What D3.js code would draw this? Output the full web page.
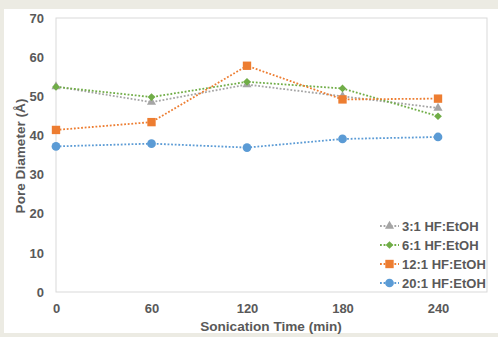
<!DOCTYPE html>
<html><head><meta charset="utf-8">
<script src="https://cdn.jsdelivr.net/npm/d3@7"></script>
<style>body{margin:0;background:#ecebe3;}</style>
</head><body>
<script>
const times = [0, 60, 120, 180, 240];
const yTicks = [0, 10, 20, 30, 40, 50, 60, 70];
const seriesNames = ["3:1 HF:EtOH", "6:1 HF:EtOH", "12:1 HF:EtOH", "20:1 HF:EtOH"];
const s3 = [52.5, 48.5, 53.0, 50.0, 47.0];
const s6 = [52.4, 49.8, 53.7, 52.0, 44.9];
const s12 = [41.4, 43.4, 57.8, 49.2, 49.4];
const s20 = [37.2, 37.9, 36.9, 39.1, 39.6];
const colors = ["#a5a5a5", "#70ad47", "#ed7d31", "#5b9bd5"];
const symbols = [d3.symbolTriangle, d3.symbolSquare, d3.symbolSquare, d3.symbolCircle];
const rotations = [0, 45, 0, 0];
const sizes = [36, 30, 70, 60];
const allSeries = [s3, s6, s12, s20];

(function () {
const W = 498, H = 337;
const svg = d3.select("body").append("svg").attr("width", W).attr("height", H).style("display", "block");
svg.append("rect").attr("x", 4).attr("y", 9).attr("width", W - 4).attr("height", H - 13).attr("fill", "#fff");

const pL = 56, pR = 487, pT = 18, pB = 292;
const x = d3.scaleLinear().domain([0, 240]).range([pL, 438]);
const y = d3.scaleLinear().domain([0, 70]).range([pB, pT]);

svg.append("rect").attr("x", pL).attr("y", pT).attr("width", pR - pL).attr("height", pB - pT)
  .attr("fill", "none").attr("stroke", "#d9d9d9").attr("stroke-width", 1);

const font = "'Liberation Sans', Arial, sans-serif";
const yAxis = d3.axisLeft(y).tickValues(yTicks).tickSize(0).tickPadding(12);
const ga = svg.append("g").attr("transform", `translate(${pL},0)`).call(yAxis);
ga.select(".domain").remove();
ga.selectAll("text").attr("font-family", font).attr("font-size", 13).attr("font-weight", "bold").attr("fill", "#595959");

const xAxis = d3.axisBottom(x).tickValues(times).tickSize(0).tickPadding(12);
const gx = svg.append("g").attr("transform", `translate(0,${pB})`).call(xAxis);
gx.select(".domain").remove();
gx.selectAll("text").attr("font-family", font).attr("font-size", 13).attr("font-weight", "bold").attr("fill", "#595959");

svg.append("text").attr("x", 271).attr("y", 331).attr("text-anchor", "middle")
  .attr("font-family", font).attr("font-size", 13.6).attr("font-weight", "bold").attr("fill", "#595959")
  .text("Sonication Time (min)");
svg.append("text").attr("transform", "translate(25,156) rotate(-90)").attr("text-anchor", "middle")
  .attr("font-family", font).attr("font-size", 13.6).attr("font-weight", "bold").attr("fill", "#595959")
  .text("Pore Diameter (Å)");

const line = d3.line().x((d, i) => x(times[i])).y(d => y(d));
allSeries.forEach((s, k) => {
  svg.append("path").datum(s).attr("d", line).attr("fill", "none")
    .attr("stroke", colors[k]).attr("stroke-width", 1.8).attr("stroke-dasharray", "1.8,1.8");
});
allSeries.forEach((s, k) => {
  svg.selectAll(null).data(s).enter().append("path")
    .attr("d", d3.symbol().type(symbols[k]).size(sizes[k]))
    .attr("transform", (d, i) => `translate(${x(times[i])},${y(d)}) rotate(${rotations[k]})`)
    .attr("fill", colors[k]);
});

const lg = svg.append("g");
const ly = [226, 245, 264, 283];
seriesNames.forEach((n, k) => {
  lg.append("line").attr("x1", 380).attr("x2", 399).attr("y1", ly[k]).attr("y2", ly[k])
    .attr("stroke", colors[k]).attr("stroke-width", 1.8).attr("stroke-dasharray", "1.8,1.8");
  lg.append("path").attr("d", d3.symbol().type(symbols[k]).size(sizes[k]))
    .attr("transform", `translate(389.5,${ly[k]}) rotate(${rotations[k]})`).attr("fill", colors[k]);
  lg.append("text").attr("x", 402).attr("y", ly[k] + 5).attr("font-family", font).attr("font-size", 13)
    .attr("font-weight", "bold").attr("fill", "#595959").text(n);
});
})();
</script>
</body></html>
